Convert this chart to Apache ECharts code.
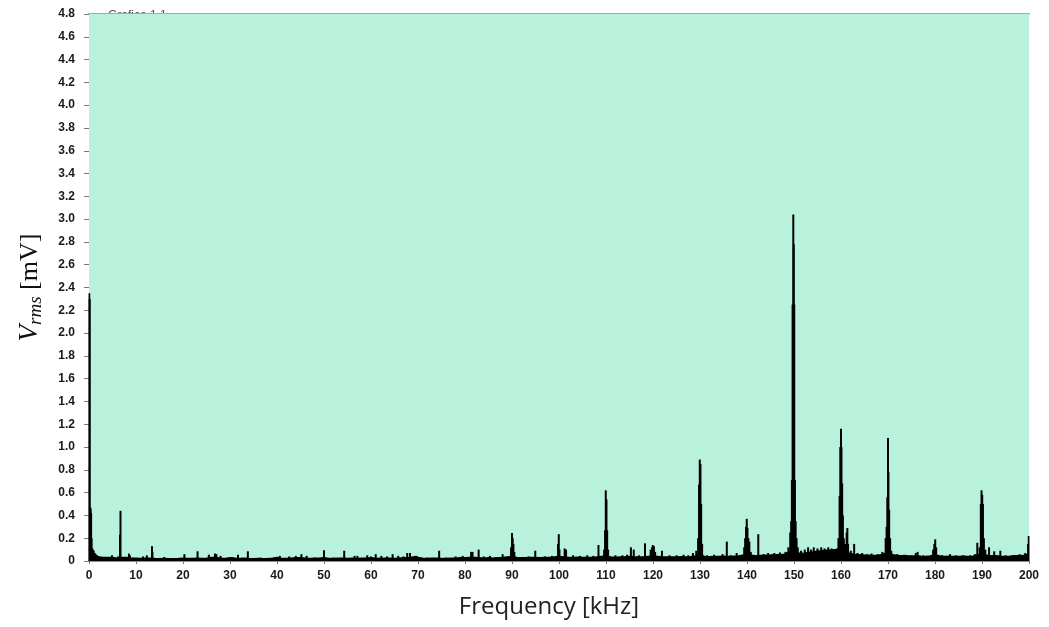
<!DOCTYPE html>
<html>
<head>
<meta charset="utf-8">
<title>Spettro FFT</title>
<script src="https://cdn.jsdelivr.net/npm/echarts@6/dist/echarts.min.js"></script>
<style>
  html, body { margin: 0; padding: 0; background: #ffffff; }
  #chart { width: 1049px; height: 627px; }
</style>
</head>
<body>
<div id="chart"></div>
<script>
// Frequency axis (kHz) and amplitude axis (mV)
const xMin = 0, xMax = 200, xStep = 10;
const yMin = 0, yMax = 4.8, yStep = 0.2;

// Noise floor, one reading per kHz starting at 0 kHz
const floorStartKHz = 0;
const floorStepKHz = 1;
const floorLevel = [
  0.10, 0.06, 0.035, 0.03, 0.03, 0.03, 0.025, 0.03, 0.03, 0.025,
  0.025, 0.022, 0.025, 0.025, 0.022, 0.02, 0.022, 0.02, 0.02, 0.022,
  0.025, 0.022, 0.022, 0.025, 0.022, 0.025, 0.03, 0.03, 0.025, 0.022,
  0.028, 0.025, 0.022, 0.025, 0.022, 0.02, 0.022, 0.02, 0.022, 0.025,
  0.03, 0.022, 0.022, 0.025, 0.028, 0.028, 0.025, 0.022, 0.025, 0.025,
  0.028, 0.022, 0.022, 0.025, 0.025, 0.022, 0.025, 0.022, 0.025, 0.025,
  0.028, 0.025, 0.022, 0.025, 0.025, 0.022, 0.025, 0.028, 0.03, 0.035,
  0.03, 0.025, 0.022, 0.025, 0.025, 0.022, 0.022, 0.025, 0.025, 0.028,
  0.028, 0.03, 0.03, 0.028, 0.025, 0.028, 0.025, 0.028, 0.03, 0.035,
  0.04, 0.03, 0.028, 0.028, 0.03, 0.03, 0.028, 0.03, 0.03, 0.035,
  0.04, 0.035, 0.03, 0.03, 0.032, 0.03, 0.03, 0.032, 0.035, 0.04,
  0.045, 0.035, 0.032, 0.035, 0.035, 0.04, 0.035, 0.035, 0.035, 0.04,
  0.045, 0.04, 0.035, 0.035, 0.035, 0.035, 0.038, 0.035, 0.038, 0.045,
  0.055, 0.04, 0.038, 0.04, 0.04, 0.042, 0.04, 0.042, 0.042, 0.05,
  0.06, 0.05, 0.045, 0.048, 0.05, 0.052, 0.055, 0.055, 0.06, 0.08,
  0.10, 0.07, 0.065, 0.075, 0.08, 0.085, 0.09, 0.095, 0.095, 0.10,
  0.12, 0.08, 0.065, 0.055, 0.055, 0.05, 0.05, 0.048, 0.05, 0.06,
  0.08, 0.055, 0.048, 0.045, 0.045, 0.042, 0.045, 0.042, 0.04, 0.045,
  0.055, 0.045, 0.04, 0.042, 0.04, 0.04, 0.042, 0.04, 0.042, 0.05,
  0.07, 0.05, 0.045, 0.045, 0.042, 0.04, 0.042, 0.045, 0.045, 0.05,
  0.06
];

// Spectral lines: frequency (kHz) and amplitude (mV)
const lineFreq = [
  0.05, 0.15, 0.25, 0.35, 0.45, 0.55, 0.7, 0.85, 1.0, 1.2, 1.4, 1.7, 2.2,
  4.9, 6.2, 6.6, 6.7, 8.5, 8.7, 11.5, 12.3, 13.4, 13.5, 16.0,
  20.3, 23.1, 25.5, 26.8, 27.1, 28.0, 30.5, 31.7, 33.8, 36.5,
  40.6, 42.6, 44.0, 45.2, 46.3, 48.0, 50.0, 52.0, 54.3, 56.5, 57.1, 59.2,
  60.0, 61.0, 62.2, 63.4, 64.6, 65.8, 66.9, 67.7, 68.3, 69.4, 69.7,
  72.0, 74.5, 76.0, 78.0, 79.5, 81.3, 81.6, 82.9, 84.0, 85.3, 86.5, 88.0,
  89.8, 90.0, 90.15, 90.3, 90.5, 92.0, 93.5, 94.95, 97.0, 98.5,
  99.8, 99.95, 100.1, 101.2, 101.5, 103.0, 104.5, 106.0, 107.3, 108.4,
  109.6, 109.8, 109.95, 110.1, 110.25, 110.45, 112.0, 113.5, 114.5, 115.3, 115.9,
  117.0, 118.3, 119.5, 119.8, 119.95, 120.2, 120.45, 121.9, 123.5, 125.0,
  126.5, 127.5, 128.5, 129.2, 129.6, 129.8, 129.95, 130.1, 130.25, 130.45,
  131.5, 133.0, 134.8, 135.7, 136.5, 137.8, 139.4, 139.6, 139.8, 139.95,
  140.1, 140.3, 140.5, 140.8, 142.4, 143.5, 144.5, 145.8, 147.0, 148.2,
  148.8, 149.2, 149.4, 149.55, 149.7, 149.85, 149.95, 150.05, 150.2, 150.35,
  150.55, 150.8, 151.5, 152.3, 153.0, 153.6, 154.2, 155.0, 155.8, 156.5,
  157.3, 158.0, 158.8, 159.45, 159.7, 159.85, 160.0, 160.1, 160.25, 160.4,
  160.6, 160.85, 161.2, 161.35, 161.5, 162.1, 162.8, 163.5, 164.5, 165.5,
  166.5, 167.8, 168.8, 169.5, 169.7, 169.85, 170.0, 170.1, 170.25, 170.45,
  170.7, 172.0, 173.5, 175.0, 175.9, 176.3, 177.5, 179.6, 179.85, 180.05,
  180.25, 181.5, 183.2, 184.5, 186.0, 187.5, 188.5, 189.0, 189.5, 189.75,
  189.9, 190.05, 190.2, 190.4, 190.7, 191.5, 192.6, 193.9, 195.0, 196.5,
  198.0, 199.2, 199.8, 199.95
];
const lineVal = [
  2.35, 2.3, 0.47, 0.46, 0.42, 0.2, 0.11, 0.1, 0.09, 0.07, 0.06, 0.05, 0.04,
  0.05, 0.04, 0.23, 0.44, 0.065, 0.05, 0.04, 0.05, 0.13, 0.08, 0.035,
  0.06, 0.085, 0.055, 0.065, 0.06, 0.045, 0.035, 0.055, 0.085, 0.03,
  0.045, 0.04, 0.045, 0.06, 0.045, 0.03, 0.095, 0.03, 0.09, 0.045, 0.045, 0.05,
  0.04, 0.06, 0.045, 0.04, 0.06, 0.045, 0.04, 0.07, 0.07, 0.045, 0.045,
  0.03, 0.09, 0.03, 0.04, 0.045, 0.08, 0.08, 0.1, 0.04, 0.045, 0.035, 0.06,
  0.12, 0.245, 0.2, 0.15, 0.08, 0.035, 0.04, 0.09, 0.04, 0.045,
  0.15, 0.235, 0.1, 0.11, 0.1, 0.05, 0.045, 0.05, 0.045, 0.14,
  0.1, 0.27, 0.62, 0.54, 0.27, 0.1, 0.05, 0.05, 0.055, 0.12, 0.1,
  0.05, 0.155, 0.1, 0.12, 0.14, 0.13, 0.08, 0.09, 0.05, 0.05,
  0.055, 0.05, 0.07, 0.09, 0.2, 0.67, 0.89, 0.85, 0.5, 0.15,
  0.05, 0.055, 0.06, 0.17, 0.05, 0.07, 0.12, 0.2, 0.3, 0.37,
  0.29, 0.2, 0.17, 0.08, 0.235, 0.06, 0.07, 0.07, 0.075, 0.08,
  0.12, 0.25, 0.35, 0.71, 2.25, 3.04, 2.78, 2.25, 0.71, 0.35,
  0.2, 0.12, 0.09, 0.1, 0.12, 0.1, 0.12, 0.11, 0.12, 0.11,
  0.12, 0.11, 0.1, 0.2, 0.57, 1.0, 1.16, 1.0, 0.68, 0.4,
  0.2, 0.15, 0.25, 0.29, 0.15, 0.09, 0.15, 0.07, 0.07, 0.06,
  0.065, 0.06, 0.08, 0.2, 0.3, 0.56, 1.08, 0.78, 0.45, 0.2,
  0.09, 0.06, 0.055, 0.05, 0.07, 0.08, 0.05, 0.1, 0.15, 0.19,
  0.12, 0.05, 0.06, 0.05, 0.05, 0.05, 0.06, 0.16, 0.12, 0.5,
  0.62, 0.58, 0.5, 0.2, 0.1, 0.12, 0.085, 0.09, 0.05, 0.05,
  0.06, 0.07, 0.15, 0.22
];

const floorData = floorLevel.map((v, i) => [floorStartKHz + i * floorStepKHz, v]);
const lineData = lineFreq.map((f, i) => [f, lineVal[i]]);

const tickFont = {
  color: '#1a1a1a',
  fontFamily: '"Liberation Sans", Arial, sans-serif',
  fontWeight: 'bold',
  fontSize: 12
};

const chart = echarts.init(document.getElementById('chart'), null, { renderer: 'canvas' });

chart.setOption({
  animation: false,
  backgroundColor: '#ffffff',
  // sheet caption, mostly tucked under the plot panel
  title: {
    text: 'Grafico 1 1',
    left: 103,
    top: 5,
    z: -1,
    textStyle: {
      fontFamily: '"Liberation Sans", Arial, sans-serif',
      fontWeight: 'normal',
      fontSize: 12,
      color: '#555555'
    }
  },
  grid: {
    left: 89,
    right: 20,
    top: 14,
    bottom: 66,
    show: true,
    z: 1,
    backgroundColor: '#b9f2dc',
    borderWidth: 0
  },
  xAxis: [
    {
      type: 'value',
      min: xMin,
      max: xMax,
      interval: xStep,
      name: 'Frequency [kHz]',
      nameLocation: 'middle',
      nameGap: 34,
      nameTextStyle: {
        fontFamily: '"Open Sans", "Liberation Sans", Arial, sans-serif',
        fontSize: 24,
        color: '#222222',
        padding: [0, 20, 0, 0]
      },
      axisLine: { show: true, lineStyle: { color: '#8a8f8c', width: 1 } },
      axisTick: { show: true, length: 3, lineStyle: { color: '#777777' } },
      axisLabel: Object.assign({ margin: 9 }, tickFont),
      splitLine: { show: false }
    },
    {
      type: 'value',
      position: 'top',
      min: xMin,
      max: xMax,
      axisLine: { show: true, lineStyle: { color: '#a2aaa6', width: 2 } },
      axisTick: { show: false },
      axisLabel: { show: false },
      splitLine: { show: false }
    }
  ],
  yAxis: {
    type: 'value',
    min: yMin,
    max: yMax,
    interval: yStep,
    name: '{v|V}{s|rms}{u| [mV]}',
    nameLocation: 'middle',
    nameGap: 44,
    nameTextStyle: {
      rich: {
        v: {
          fontFamily: '"Liberation Serif", "DejaVu Serif", serif',
          fontStyle: 'italic',
          fontSize: 27,
          color: '#111111',
          lineHeight: 30
        },
        s: {
          fontFamily: '"Liberation Serif", "DejaVu Serif", serif',
          fontStyle: 'italic',
          fontSize: 19,
          color: '#111111',
          verticalAlign: 'bottom',
          lineHeight: 30,
          padding: [8, 0, 0, 0]
        },
        u: {
          fontFamily: '"Liberation Serif", "DejaVu Serif", serif',
          fontSize: 26,
          color: '#111111',
          lineHeight: 30
        }
      }
    },
    axisLine: { show: true, lineStyle: { color: '#8a8f8c', width: 1 } },
    axisTick: { show: true, length: 5, lineStyle: { color: '#777777' } },
    axisLabel: Object.assign({
      margin: 14,
      formatter: (v) => (v === 0 ? '0' : v.toFixed(1))
    }, tickFont),
    splitLine: { show: false }
  },
  series: [
    {
      name: 'floor',
      type: 'line',
      data: floorData,
      symbol: 'none',
      lineStyle: { color: '#000000', width: 1.5 },
      areaStyle: { color: '#000000', opacity: 1 },
      z: 3
    },
    {
      name: 'lines',
      type: 'bar',
      data: lineData,
      barWidth: 2,
      itemStyle: { color: '#000000' },
      z: 4
    }
  ]
});
</script>
</body>
</html>
